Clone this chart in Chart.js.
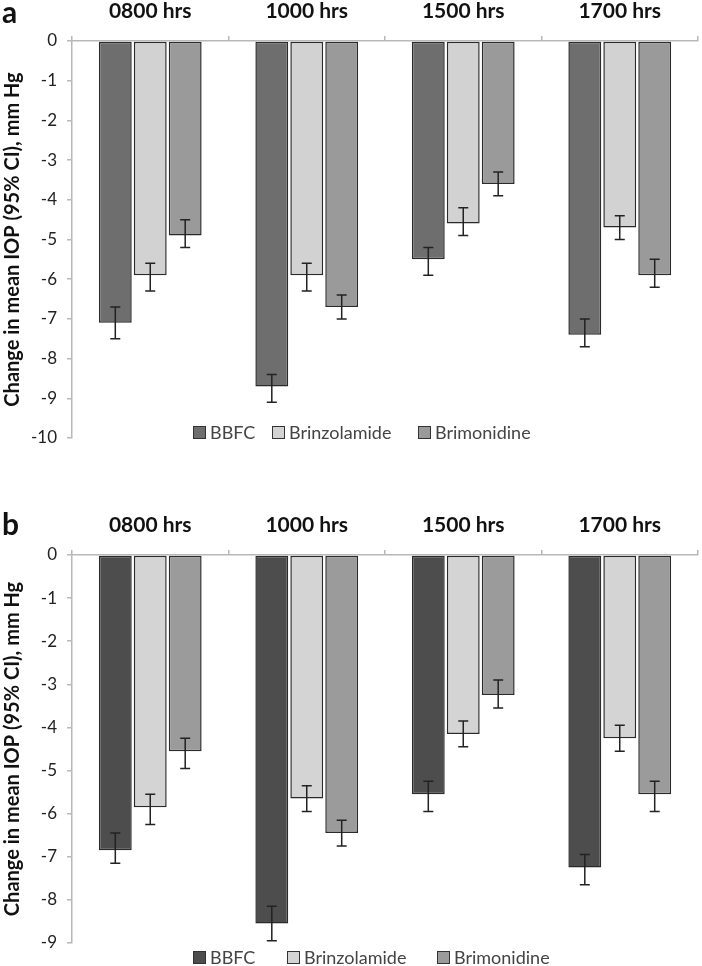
<!DOCTYPE html>
<html>
<head>
<meta charset="utf-8">
<script src="https://cdn.jsdelivr.net/npm/chart.js@4.4.1/dist/chart.umd.min.js"></script>
<style>
  body { margin: 0; background: #fff; }
  #page { position: relative; width: 702px; height: 966px; font-family: Lato, sans-serif; }
  .panel { position: absolute; left: 0; width: 702px; }
  .tag { position: absolute; left: 2px; font-size: 30px; font-weight: bold; color: #111; line-height: 1; }
  .legend { position: absolute; font-size: 18px; color: #444; }
  .item { position: absolute; top: 0; display: flex; align-items: center; white-space: nowrap; }
  .box { width: 11px; height: 11px; border: 1.5px solid #333; margin-right: 4px; }
</style>
</head>
<body>
<div id="page">
  <div class="panel" style="top:0;height:480px"><canvas id="chartA" width="702" height="480"></canvas></div>
  <div class="panel" style="top:480px;height:486px"><canvas id="chartB" width="702" height="486"></canvas></div>
  <div class="tag" style="top:-4px">a</div>
  <div class="tag" style="top:508px">b</div>
  <div class="legend" id="legendA" style="top:421px;left:0"></div>
  <div class="legend" id="legendB" style="top:946px;left:0"></div>
</div>
<script>
const timepoints = ['0800 hrs', '1000 hrs', '1500 hrs', '1700 hrs'];
const seriesNames = ['BBFC', 'Brinzolamide', 'Brimonidine'];

// panel a
const aBBFC = [-7.1, -8.7, -5.5, -7.4];
const aBBFCHigh = [-6.7, -8.4, -5.2, -7.0];
const aBBFCLow = [-7.5, -9.1, -5.9, -7.7];
const aBrinz = [-5.9, -5.9, -4.6, -4.7];
const aBrinzHigh = [-5.6, -5.6, -4.2, -4.4];
const aBrinzLow = [-6.3, -6.3, -4.9, -5.0];
const aBrim = [-4.9, -6.7, -3.6, -5.9];
const aBrimHigh = [-4.5, -6.4, -3.3, -5.5];
const aBrimLow = [-5.2, -7.0, -3.9, -6.2];

// panel b
const bBBFC = [-6.85, -8.55, -5.55, -7.25];
const bBBFCHigh = [-6.45, -8.15, -5.25, -6.95];
const bBBFCLow = [-7.15, -8.95, -5.95, -7.65];
const bBrinz = [-5.85, -5.65, -4.15, -4.25];
const bBrinzHigh = [-5.55, -5.35, -3.85, -3.95];
const bBrinzLow = [-6.25, -5.95, -4.45, -4.55];
const bBrim = [-4.55, -6.45, -3.25, -5.55];
const bBrimHigh = [-4.25, -6.15, -2.9, -5.25];
const bBrimLow = [-4.95, -6.75, -3.55, -5.95];

const yTicksA = [0, -1, -2, -3, -4, -5, -6, -7, -8, -9, -10];
const yTicksB = [0, -1, -2, -3, -4, -5, -6, -7, -8, -9];

const FONT = 'Lato, sans-serif';

// draws the 95% CI whiskers on top of each bar
const errorBars = {
    id: 'errorBars',
    afterDatasetsDraw(chart) {
        const ctx = chart.ctx;
        const y = chart.scales.y;
        ctx.save();
        ctx.strokeStyle = '#222';
        ctx.lineWidth = 1.5;
        chart.data.datasets.forEach((ds, i) => {
            chart.getDatasetMeta(i).data.forEach((bar, j) => {
                const top = y.getPixelForValue(ds.errHigh[j]);
                const bot = y.getPixelForValue(ds.errLow[j]);
                const cap = 5;
                ctx.beginPath();
                ctx.moveTo(bar.x, top); ctx.lineTo(bar.x, bot);
                ctx.moveTo(bar.x - cap, top); ctx.lineTo(bar.x + cap, top);
                ctx.moveTo(bar.x - cap, bot); ctx.lineTo(bar.x + cap, bot);
                ctx.stroke();
            });
        });
        ctx.restore();
    }
};

function makeChart(id, means, highs, lows, colors, yTicks, topH, labelPad, bottomPad) {
    const datasets = means.map((m, i) => ({
        label: seriesNames[i],
        data: m,
        errHigh: highs[i],
        errLow: lows[i],
        backgroundColor: colors[i],
        borderColor: '#2a2a2a',
        borderWidth: 1.5,
        borderSkipped: false,
        categoryPercentage: 0.67,
        barPercentage: 0.94
    }));
    return new Chart(document.getElementById(id), {
        type: 'bar',
        data: { labels: timepoints, datasets: datasets },
        plugins: [errorBars],
        options: {
            responsive: false,
            animation: false,
            layout: { padding: { left: 0, right: 4, top: 0, bottom: bottomPad } },
            plugins: { legend: { display: false }, tooltip: { enabled: false } },
            scales: {
                x: {
                    position: 'top',
                    grid: { offset: true, drawOnChartArea: false, color: '#b8b8b8', lineWidth: 1.5, tickLength: 5 },
                    border: { color: '#b8b8b8', width: 1.5 },
                    ticks: { font: { family: FONT, size: 21, weight: 'bold' }, color: '#111', padding: labelPad },
                    afterFit: s => { s.height = topH; }
                },
                y: {
                    min: yTicks[yTicks.length - 1],
                    max: yTicks[0],
                    afterBuildTicks: s => { s.ticks = yTicks.map(v => ({ value: v })); },
                    grid: { drawOnChartArea: false, color: '#b8b8b8', lineWidth: 1.5, tickLength: 5 },
                    border: { color: '#b8b8b8', width: 1.5 },
                    ticks: { font: { family: FONT, size: 17 }, color: '#222', padding: 10 },
                    title: {
                        display: true,
                        text: 'Change in mean IOP (95% CI), mm Hg',
                        font: { family: FONT, size: 20, weight: 'bold' },
                        color: '#111',
                        padding: 1
                    },
                    afterFit: s => { s.width = 72; }
                }
            }
        }
    });
}

function makeLegend(id, colors, xs) {
    const el = document.getElementById(id);
    seriesNames.forEach((name, i) => {
        const item = document.createElement('div');
        item.className = 'item';
        item.style.left = xs[i] + 'px';
        item.innerHTML = '<span class="box" style="background:' + colors[i] + '"></span>' + name;
        el.appendChild(item);
    });
}

const colorsA = ['#6e6e6e', '#d2d2d2', '#9a9a9a'];
const colorsB = ['#4d4d4d', '#d4d4d4', '#9b9b9b'];

makeChart('chartA', [aBBFC, aBrinz, aBrim], [aBBFCHigh, aBrinzHigh, aBrimHigh],
    [aBBFCLow, aBrinzLow, aBrimLow], colorsA, yTicksA, 41, 12, 42);
makeChart('chartB', [bBBFC, bBrinz, bBrim], [bBBFCHigh, bBrinzHigh, bBrimHigh],
    [bBBFCLow, bBrinzLow, bBrimLow], colorsB, yTicksB, 75, 12, 23);

makeLegend('legendA', colorsA, [193, 272, 418]);
makeLegend('legendB', colorsB, [193, 287, 437]);
</script>
</body>
</html>
